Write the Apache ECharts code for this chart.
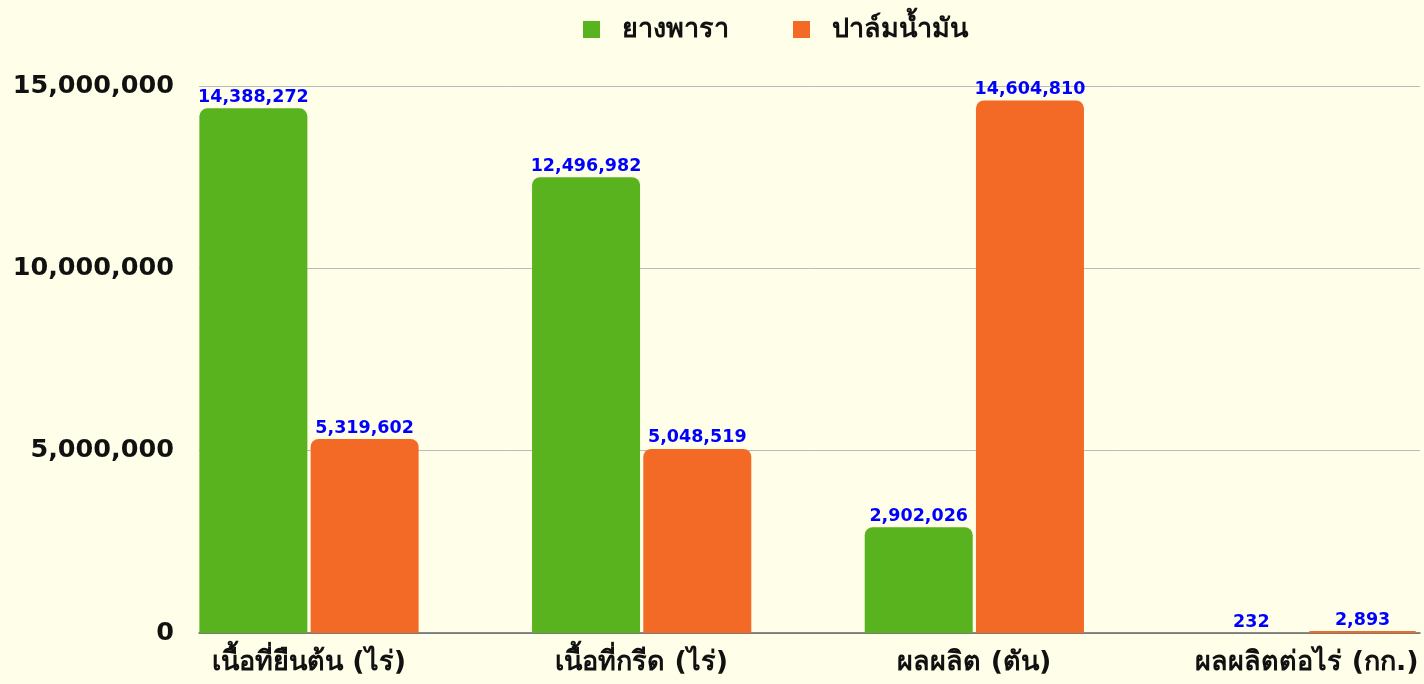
<!DOCTYPE html>
<html>
<head>
<meta charset="utf-8">
<script src="https://cdn.jsdelivr.net/npm/echarts@6/dist/echarts.min.js"></script>
<style>
html, body { margin: 0; padding: 0; background: #FFFEE8; }
#chart { width: 1424px; height: 684px; }
</style>
</head>
<body>
<div id="chart"></div>
<script>
var categories = ['เนื้อที่ยืนต้น (ไร่)', 'เนื้อที่กรีด (ไร่)', 'ผลผลิต (ตัน)', 'ผลผลิตต่อไร่ (กก.)'];
var seriesNames = ['ยางพารา', 'ปาล์มน้ำมัน'];
var rubber = [14388272, 12496982, 2902026, 232];
var palm = [5319602, 5048519, 14604810, 2893];
var yTicks = [0, 5000000, 10000000, 15000000];

// สองกริด: กริดแรกวางแท่ง กริดที่สองวาดเส้นแกนและป้ายแกน y
var myChart = echarts.init(document.getElementById('chart'));
var labelStyle = {
    show: true,
    position: 'top',
    distance: 2,
    color: '#0000FF',
    fontWeight: 'bold',
    fontSize: 17.5,
    fontFamily: 'DejaVu Sans',
    formatter: function (p) { return p.value.toLocaleString('en-US'); }
};
var option = {
    backgroundColor: '#FFFEE8',
    textStyle: { fontFamily: 'DejaVu Sans' },
    legend: {
        top: 11,
        left: 578,
        itemWidth: 17,
        itemHeight: 17,
        itemGap: 64,
        icon: 'rect',
        textStyle: { fontSize: 27, fontWeight: 'bold', color: '#111', padding: [0, 0, 0, 17] },
        data: seriesNames
    },
    grid: [
        { left: 309, right: 117, top: 86, bottom: 51 },
        { left: 199, right: 4, top: 86, bottom: 51 }
    ],
    xAxis: [
        {
            type: 'category', gridIndex: 0, data: categories, boundaryGap: false,
            axisLine: { show: false }, axisTick: { show: false },
            axisLabel: { margin: 16, fontSize: 27, fontWeight: 'bold', color: '#111' }
        },
        {
            type: 'value', gridIndex: 1, min: 0, max: 1,
            axisLine: { show: true, lineStyle: { color: '#666', width: 1.5 } },
            axisTick: { show: false }, axisLabel: { show: false }, splitLine: { show: false }
        }
    ],
    yAxis: [
        { type: 'value', gridIndex: 0, min: 0, max: 15000000, show: false, splitLine: { show: false } },
        {
            type: 'value', gridIndex: 1, min: yTicks[0], max: yTicks[yTicks.length - 1], interval: 5000000,
            axisLine: { show: false }, axisTick: { show: false },
            splitLine: { lineStyle: { color: '#BBBBBB', width: 1 } },
            axisLabel: {
                margin: 25, fontSize: 25.5, fontWeight: 'bold', color: '#111',
                formatter: function (v) { return v.toLocaleString('en-US'); }
            }
        }
    ],
    series: [
        {
            name: seriesNames[0], type: 'bar', xAxisIndex: 0, yAxisIndex: 0, clip: false,
            data: rubber, barWidth: 108, barGap: '3%',
            itemStyle: { color: '#58B31F', borderRadius: [8, 8, 0, 0] },
            label: labelStyle, z: 3
        },
        {
            name: seriesNames[1], type: 'bar', xAxisIndex: 0, yAxisIndex: 0, clip: false,
            data: palm, barWidth: 108, barGap: '3%', barMinHeight: 2,
            itemStyle: { color: '#F26A25', borderRadius: [8, 8, 0, 0] },
            label: labelStyle, z: 3
        }
    ]
};
myChart.setOption(option);
window.addEventListener('resize', function () {
    myChart.resize();
});
</script>
</body>
</html>
